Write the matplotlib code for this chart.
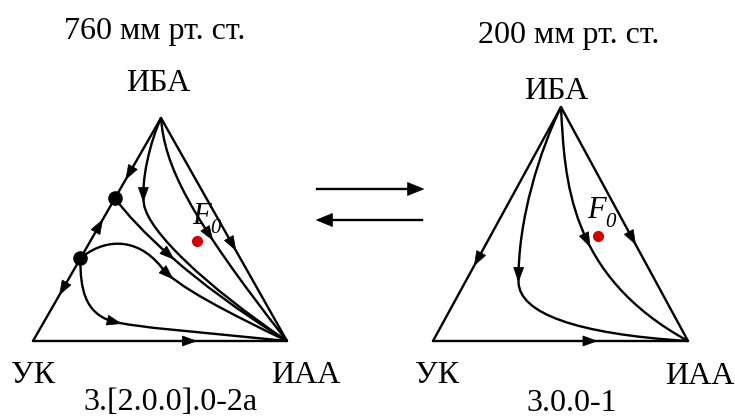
import numpy as np
import matplotlib
matplotlib.use("Agg")
import matplotlib.pyplot as plt
from matplotlib.path import Path
from matplotlib.patches import PathPatch, Polygon

plt.rcParams["font.family"] = "Liberation Serif"

# all compositions are (x_IAA, x_IBA); x_UK = 1 - x_IAA - x_IBA
pressures = ["760 мм рт. ст.", "200 мм рт. ст."]
structures = ["3.[2.0.0].0-2a", "3.0.0-1"]
comp_uk, comp_iaa, comp_iba = "УК", "ИАА", "ИБА"

feed = (0.42, 0.45)

# 760 mmHg: two azeotropes on the УК-ИБА side
nodes_760 = [(0.00, 0.64), (0.00, 0.37)]
edges_760 = [  # start, end, arrow position along the edge
    ((0, 1), (0.00, 0.64), 0.67),
    ((0.00, 0.37), (0.00, 0.64), 0.52),
    ((0.00, 0.37), (0, 0), 0.35),
    ((0, 0), (1, 0), 0.61),
    ((0, 1), (1, 0), 0.56),
]
curves_760 = [  # bezier control points (composition)
    [(0, 1), (0.01, 0.90), (0.06, 0.72), (0.13, 0.61), (0.21, 0.49), (0.55, 0.25), (1, 0)],
    [(0, 1), (0.12, 0.79), (0.32, 0.57), (1, 0)],
    [(0.00, 0.64), (0.15, 0.51), (0.48, 0.27), (1, 0)],
    [(0.00, 0.37), (0.04, 0.45), (0.16, 0.48), (0.34, 0.33), (0.43, 0.25), (0.72, 0.12), (1, 0)],
    [(0.00, 0.37), (0.07, 0.23), (0.14, 0.13), (0.26, 0.09), (0.37, 0.06), (0.64, 0.04), (1, 0)],
]
arrows_760 = [0.85, 0.65, 0.47, 1.10, 1.03]

# 200 mmHg: no azeotropes
nodes_200 = []
edges_200 = [
    ((0, 1), (0, 0), 0.645),
    ((0, 0), (1, 0), 0.61),
    ((0, 1), (1, 0), 0.555),
]
curves_200 = [
    [(0, 1), (0.01, 0.82), (0.07, 0.52), (0.21, 0.25), (0.28, 0.12), (0.54, 0.03), (1, 0)],
    [(0, 1), (0.17, 0.69), (0.39, 0.28), (1, 0)],
]
arrows_200 = [0.95, 0.55]

panels = [
    dict(uk=(33, 341), iaa=(287, 341), iba=(161, 118),
         title=(155, 39), top=(158, 91), left=(33, 383), right=(306, 383),
         name=(171, 410), f0=(-5, -17),
         nodes=nodes_760, edges=edges_760, curves=curves_760, arrows=arrows_760),
    dict(uk=(433, 341), iaa=(688, 341), iba=(561, 107),
         title=(569, 43), top=(556, 99), left=(437, 383), right=(700, 384),
         name=(572, 411), f0=(-11, -18),
         nodes=nodes_200, edges=edges_200, curves=curves_200, arrows=arrows_200),
]

LW = 1.7
FS = 23


def to_xy(p, comp):
    a, b = comp
    return (np.array(p["uk"]) * (1 - a - b) + np.array(p["iaa"]) * a
            + np.array(p["iba"]) * b)


def head(ax, pt, d, L=14, W=10):
    d = np.asarray(d, float)
    d = d / np.hypot(*d)
    n = np.array([-d[1], d[0]])
    tip = pt + d * L * 0.6
    back = pt - d * L * 0.4
    ax.add_patch(Polygon([tip, back + n * W / 2, back - n * W / 2],
                         closed=True, fc="black", ec="black", lw=0.5, zorder=4))


def bez(ctrl, t):
    nseg = (len(ctrl) - 1) // 3
    s = min(int(t), nseg - 1)
    u = t - s
    P = ctrl[3 * s:3 * s + 4]
    pt = ((1 - u) ** 3 * P[0] + 3 * (1 - u) ** 2 * u * P[1]
          + 3 * (1 - u) * u ** 2 * P[2] + u ** 3 * P[3])
    dv = (3 * (1 - u) ** 2 * (P[1] - P[0]) + 6 * (1 - u) * u * (P[2] - P[1])
          + 3 * u ** 2 * (P[3] - P[2]))
    return pt, dv


fig = plt.figure(figsize=(7.35, 4.17), dpi=100)
ax = fig.add_axes([0, 0, 1, 1])
ax.set_xlim(0, 735)
ax.set_ylim(417, 0)
ax.axis("off")

for i, p in enumerate(panels):
    # triangle sides with arrows
    for s, e, f in p["edges"]:
        a, b = to_xy(p, s), to_xy(p, e)
        ax.plot([a[0], b[0]], [a[1], b[1]], color="black", lw=LW,
                solid_capstyle="round", zorder=2)
        head(ax, a + (b - a) * f, b - a)

    # distillation lines
    for ctrl, t in zip(p["curves"], p["arrows"]):
        pts = np.array([to_xy(p, c) for c in ctrl])
        codes = [Path.MOVETO] + [Path.CURVE4] * (len(pts) - 1)
        ax.add_patch(PathPatch(Path(pts, codes), fc="none", ec="black",
                               lw=LW, zorder=2))
        pt, dv = bez(pts, t)
        head(ax, pt, dv)

    for nd in p["nodes"]:
        x, y = to_xy(p, nd)
        ax.plot(x, y, "o", color="black", ms=9.5, zorder=5)

    # feed point F0
    fx, fy = to_xy(p, feed)
    ax.plot(fx, fy, "o", color="#d40000", ms=8, mec="none", zorder=5)
    tx, ty = fx + p["f0"][0], fy + p["f0"][1]
    ax.text(tx, ty, "F", fontsize=22, style="italic", ha="left", va="baseline")
    ax.text(tx + 18, ty + 9, "0", fontsize=15, style="italic",
            ha="left", va="baseline")

    ax.text(*p["title"], pressures[i], fontsize=FS, ha="center", va="baseline")
    ax.text(*p["top"], comp_iba, fontsize=FS, ha="center", va="baseline")
    ax.text(*p["left"], comp_uk, fontsize=FS, ha="center", va="baseline")
    ax.text(*p["right"], comp_iaa, fontsize=FS, ha="center", va="baseline")
    ax.text(*p["name"], structures[i], fontsize=FS, ha="center", va="baseline")

# pressure switch arrows
ax.plot([317, 410], [189, 189], color="black", lw=LW)
head(ax, np.array([414.0, 189.0]), (1, 0), L=16, W=13)
ax.plot([330, 422], [220, 220], color="black", lw=LW)
head(ax, np.array([326.0, 220.0]), (-1, 0), L=16, W=13)

fig.savefig("out.png", dpi=100)
